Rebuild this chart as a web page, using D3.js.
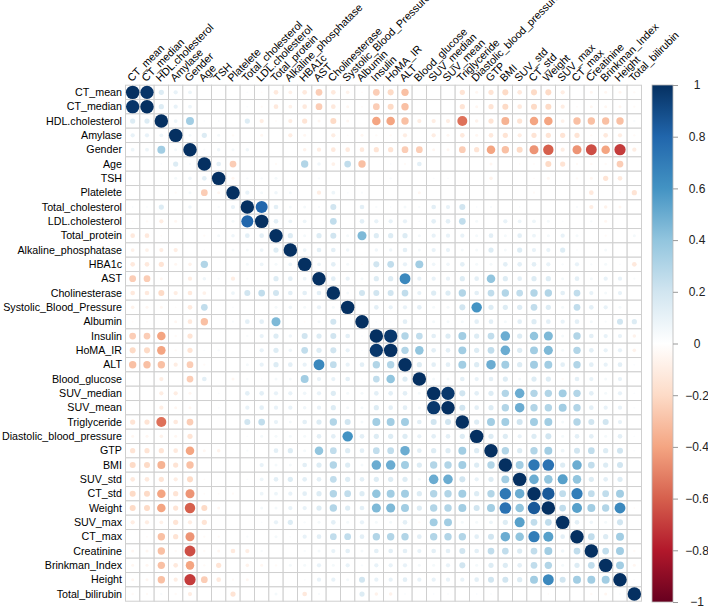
<!DOCTYPE html>
<html>
<head>
<meta charset="utf-8">
<script src="https://cdn.jsdelivr.net/npm/d3@7"></script>
<style>
  body { margin: 0; background: #fff; }
  text { font-family: Arial, "Liberation Sans", sans-serif; }
</style>
</head>
<body>
<div id="chart"></div>
<script>
// Global Variables :
var width = 708,
    height = 608;

var vars = ["CT_mean", "CT_median", "HDL.cholesterol", "Amylase", "Gender", "Age", "TSH",
  "Platelete", "Total_cholesterol", "LDL.cholesterol", "Total_protein", "Alkaline_phosphatase",
  "HBA1c", "AST", "Cholinesterase", "Systolic_Blood_Pressure", "Albumin", "Insulin", "HoMA_IR",
  "ALT", "Blood_glucose", "SUV_median", "SUV_mean", "Triglyceride", "Diastolic_blood_pressure",
  "GTP", "BMI", "SUV_std", "CT_std", "Weight", "SUV_max", "CT_max", "Creatinine",
  "Brinkman_Index", "Height", "Total_bilirubin"];

// lower triangle, row i holds correlations with columns 0..i-1
var lower = [
  [],
  [0.98],
  [0.15, 0.15],
  [0.1, 0.1, 0.08],
  [0.08, 0.08, 0.35, 0.05],
  [0, 0, 0.02, 0.15, 0.03],
  [0, 0, 0.02, 0.05, 0.07, 0.12],
  [0, 0, 0, -0.03, 0.05, -0.25, -0.05],
  [0.02, 0.02, 0.15, 0, 0.07, 0, 0.03, 0.1],
  [-0.02, -0.03, -0.1, -0.05, 0, 0, 0.03, 0.05, 0.8],
  [-0.12, -0.12, -0.02, 0, 0, -0.03, 0.05, 0.07, 0.12, 0.12],
  [-0.08, -0.08, -0.1, -0.1, 0, 0.02, 0, 0.05, 0.05, 0.08, 0.15],
  [-0.12, -0.12, -0.15, -0.05, -0.07, 0.3, 0, 0, 0.05, 0.08, 0.05, 0.08],
  [-0.25, -0.25, -0.05, 0, -0.1, 0.07, 0.03, -0.1, 0.03, 0, 0.15, 0.12, 0.08],
  [-0.12, -0.12, -0.2, -0.1, -0.12, -0.08, 0, 0.08, 0.2, 0.25, 0.2, 0.12, 0.12, 0.12],
  [-0.07, -0.05, -0.05, -0.02, -0.12, 0.25, 0, 0.02, 0, 0, 0.05, 0.07, 0.05, 0.1, 0.05],
  [-0.02, -0.02, 0, -0.05, -0.12, -0.3, 0, 0.03, 0.12, 0.12, 0.45, 0, -0.02, 0.05, 0.2, 0],
  [-0.25, -0.25, -0.4, -0.03, -0.15, 0, 0, 0, 0.03, 0.1, 0.15, 0.07, 0.2, 0.15, 0.2, 0.12, 0.02],
  [-0.2, -0.2, -0.4, -0.03, -0.15, 0.02, 0.03, 0, 0.02, 0.1, 0.15, 0.07, 0.25, 0.15, 0.2, 0.1, 0.02, 0.97],
  [-0.3, -0.3, -0.3, -0.1, -0.25, -0.03, 0, 0, 0.05, 0.1, 0.15, 0.12, 0.1, 0.65, 0.25, 0.1, 0.12, 0.3, 0.3],
  [0, 0, -0.1, 0, -0.25, 0.12, 0, -0.05, 0.03, 0.02, 0.05, 0.05, 0.35, 0.1, 0.1, 0.12, 0.02, 0.25, 0.4, 0.15],
  [0, 0, -0.1, -0.1, -0.05, 0, 0.02, 0, 0.12, 0.12, 0.1, 0.1, 0.07, 0.1, 0.15, 0.05, 0.05, 0.12, 0.12, 0.12, 0.05],
  [0, 0, -0.1, -0.05, -0.05, 0, 0.02, 0, 0.1, 0.12, 0.1, 0.1, 0.07, 0.1, 0.15, 0.05, 0.05, 0.15, 0.12, 0.12, 0.05, 0.97],
  [-0.15, -0.15, -0.55, -0.12, -0.25, 0, 0, 0, 0.2, 0.25, 0.1, 0.05, 0.12, 0.15, 0.3, 0.2, 0.05, 0.35, 0.35, 0.35, 0.12, 0.2, 0.2],
  [-0.05, -0.05, -0.07, -0.05, -0.15, 0, 0, 0, 0.02, 0.05, 0.05, 0.05, 0.05, 0.12, 0.12, 0.6, 0.12, 0.15, 0.15, 0.15, 0.1, 0.12, 0.12, 0.15],
  [-0.15, -0.15, -0.15, -0.12, -0.4, -0.05, -0.07, 0, 0.03, 0, 0.12, 0.15, 0.05, 0.4, 0.25, 0.15, 0.12, 0.25, 0.25, 0.5, 0.12, 0.15, 0.15, 0.35, 0.15],
  [-0.2, -0.2, -0.35, -0.15, -0.3, 0, 0, 0, 0, 0.1, 0.05, 0.05, 0.12, 0.15, 0.3, 0.15, 0.05, 0.5, 0.5, 0.35, 0.15, 0.3, 0.3, 0.35, 0.15, 0.3],
  [-0.12, -0.12, -0.15, -0.1, -0.2, -0.02, 0, 0, 0.02, 0.08, 0.12, 0.15, 0.12, 0.12, 0.25, 0.15, 0.12, 0.15, 0.15, 0.15, 0.05, 0.5, 0.5, 0.2, 0.1, 0.15, 0.35],
  [-0.2, -0.2, -0.4, -0.15, -0.45, -0.02, -0.02, -0.03, 0, 0.08, 0.08, 0.1, 0.12, 0.15, 0.3, 0.25, 0.15, 0.4, 0.35, 0.35, 0.15, 0.3, 0.3, 0.35, 0.15, 0.3, 0.72, 0.5],
  [-0.2, -0.2, -0.4, -0.15, -0.6, -0.2, -0.05, 0, 0, 0.05, 0.05, 0.1, 0.1, 0.15, 0.3, 0.15, 0.12, 0.45, 0.45, 0.35, 0.15, 0.3, 0.3, 0.35, 0.2, 0.35, 0.75, 0.4, 0.85],
  [-0.1, -0.1, -0.08, -0.15, -0.1, -0.15, 0, 0, 0, 0.02, 0.1, 0.15, 0.03, 0.05, 0.12, 0.05, 0.1, 0.05, 0.05, 0.12, -0.03, 0.35, 0.35, 0.05, 0.05, 0.08, 0.15, 0.55, 0.25, 0.25],
  [0, -0.02, -0.3, -0.15, -0.45, -0.03, -0.03, 0, 0.03, 0, 0.05, 0.02, 0.1, 0.12, 0.25, 0.25, 0.12, 0.3, 0.3, 0.3, 0.12, 0.3, 0.3, 0.3, 0.12, 0.2, 0.5, 0.4, 0.7, 0.55, 0.12],
  [-0.05, -0.05, -0.3, -0.03, -0.65, -0.03, -0.05, -0.12, -0.1, 0.03, 0, 0, 0.03, 0.05, 0.1, 0.12, 0.05, 0.12, 0.12, 0.12, 0.1, 0.12, 0.12, 0.2, 0.12, 0.25, 0.25, 0.15, 0.25, 0.35, 0.07, 0.25],
  [-0.05, -0.05, -0.3, -0.12, -0.4, -0.03, -0.15, 0, -0.07, -0.05, -0.03, 0.05, 0.05, 0.1, 0.05, 0.1, 0.03, 0.1, 0.1, 0.1, 0.05, 0.05, 0.1, 0.2, 0.05, 0.15, 0.15, 0.12, 0.25, 0.3, 0.05, 0.15, 0.25],
  [-0.05, -0.05, -0.3, -0.1, -0.7, -0.25, -0.12, -0.03, -0.05, 0, 0, 0, 0.02, 0.1, 0.1, 0.05, 0.2, 0.1, 0.1, 0.12, 0.1, 0.1, 0.1, 0.1, 0.12, 0.2, 0.2, 0.15, 0.35, 0.65, 0.2, 0.35, 0.35, 0.35],
  [-0.03, -0.03, 0.03, -0.03, -0.1, 0, 0, -0.15, 0, 0, 0.05, 0, -0.12, 0.03, 0, 0, 0.15, -0.07, -0.07, 0.02, 0, 0.02, 0.02, 0, 0.02, 0.02, 0, 0, 0, -0.02, 0, 0, -0.03, -0.05, 0.02]
];

var colorbar_ticks = [1, 0.8, 0.6, 0.4, 0.2, 0, -0.2, -0.4, -0.6, -0.8, -1];

// corrplot RdBu palette
var palette = ["#67001F", "#B2182B", "#D6604D", "#F4A582", "#FDDBC7", "#FFFFFF",
               "#D1E5F0", "#92C5DE", "#4393C3", "#2166AC", "#053061"];

var grid_left = 125.5, grid_top = 85.2, grid_size = 516;

// full symmetric matrix
var cells = [];
vars.forEach(function(rv, i) {
  vars.forEach(function(cv, j) {
    var r;
    if (i == j) r = 1;
    else if (j < i) r = lower[i][j];
    else r = lower[j][i];
    cells.push({row: rv, col: cv, r: r});
  });
});

var svg = d3.select("#chart").append("svg")
  .attr("width", width)
  .attr("height", height);

var x = d3.scaleBand().domain(vars).range([grid_left, grid_left + grid_size]);
var y = d3.scaleBand().domain(vars).range([grid_top, grid_top + grid_size]);

var color = d3.scaleLinear()
  .domain(d3.range(11).map(function(k) { return -1 + k * 0.2; }))
  .range(palette);

var rMax = x.bandwidth() * 0.47;

// grid
svg.append("g").selectAll("rect")
  .data(cells).enter()
  .append("rect")
  .attr("x", function(d) { return x(d.col); })
  .attr("y", function(d) { return y(d.row); })
  .attr("width", x.bandwidth())
  .attr("height", y.bandwidth())
  .attr("fill", "white")
  .attr("stroke", "#cfcfcf")
  .attr("stroke-width", 1);

// circles
svg.append("g").selectAll("circle")
  .data(cells).enter()
  .append("circle")
  .attr("cx", function(d) { return x(d.col) + x.bandwidth() / 2; })
  .attr("cy", function(d) { return y(d.row) + y.bandwidth() / 2; })
  .attr("r", function(d) { return rMax * Math.sqrt(Math.abs(d.r)); })
  .attr("fill", function(d) { return color(d.r); });

// row labels
svg.append("g").selectAll("text")
  .data(vars).enter()
  .append("text")
  .attr("x", grid_left - 3.5)
  .attr("y", function(d) { return y(d) + y.bandwidth() / 2; })
  .attr("dy", "0.35em")
  .attr("text-anchor", "end")
  .style("font-size", "10.7px")
  .attr("fill", "#000")
  .text(function(d) { return d; });

// column labels
svg.append("g").selectAll("text")
  .data(vars).enter()
  .append("text")
  .attr("transform", function(d) {
    return "translate(" + (x(d) + x.bandwidth() / 2 - 1) + "," + (grid_top - 3) + ") rotate(-45)";
  })
  .attr("text-anchor", "start")
  .style("font-size", "10.7px")
  .attr("fill", "#000")
  .text(function(d) { return d; });

// Legend :
var bar_x = 652, bar_w = 21, bar_top = 85, bar_bottom = 602;
var defs = svg.append("defs");
var grad = defs.append("linearGradient")
  .attr("id", "cbar")
  .attr("x1", "0").attr("y1", "1").attr("x2", "0").attr("y2", "0");
palette.forEach(function(c, k) {
  grad.append("stop").attr("offset", (k * 10) + "%").attr("stop-color", c);
});

svg.append("rect")
  .attr("x", bar_x).attr("y", bar_top)
  .attr("width", bar_w).attr("height", bar_bottom - bar_top)
  .attr("fill", "url(#cbar)")
  .attr("stroke", "#b8b8b8")
  .attr("stroke-width", 0.8);

var cscale = d3.scaleLinear().domain([-1, 1]).range([bar_bottom, bar_top]);
var caxis = svg.append("g")
  .attr("transform", "translate(" + (bar_x + bar_w) + ",0)")
  .call(d3.axisRight(cscale).tickValues(colorbar_ticks).tickSize(5).tickFormat(d3.format("")));
caxis.select(".domain").remove();
caxis.selectAll(".tick line").attr("stroke", "#999");
caxis.selectAll(".tick text")
  .attr("x", 24)
  .attr("text-anchor", "middle")
  .attr("fill", "#222")
  .style("font-size", "12px")
  .style("font-family", "Arial, 'Liberation Sans', sans-serif");
</script>
</body>
</html>
